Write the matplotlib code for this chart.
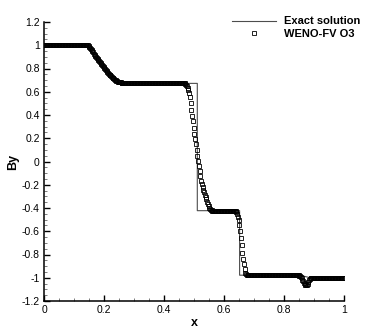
import numpy as np
import matplotlib.pyplot as plt
from matplotlib.ticker import MultipleLocator, AutoMinorLocator, FuncFormatter

plt.rcParams['font.family'] = ['Liberation Sans', 'DejaVu Sans']

# ----------------------------
# Exact solution (piecewise)
# ----------------------------
exact_x = [0.0, 0.145, 0.16, 0.18, 0.20, 0.22, 0.24, 0.255,
           0.511, 0.511, 0.652, 0.652, 0.853, 0.887, 1.0]
exact_by = [1.0, 1.0, 0.948, 0.876, 0.806, 0.744, 0.697, 0.672,
            0.672, -0.423, -0.423, -0.978, -0.978, -1.0, -1.0]

# ----------------------------
# WENO-FV O3 cell values, 400 cells on [0, 1]
# ----------------------------
n_cells = 400
weno_x = (np.arange(n_cells) + 0.5) / n_cells

rarefaction = [0.998, 0.992, 0.984, 0.975, 0.966, 0.957, 0.948, 0.939,
               0.929, 0.920, 0.911, 0.902, 0.892, 0.883, 0.874, 0.865,
               0.856, 0.847, 0.838, 0.829, 0.820, 0.811, 0.802, 0.794,
               0.786, 0.778, 0.770, 0.762, 0.755, 0.748, 0.741, 0.734,
               0.727, 0.721, 0.715, 0.709, 0.704, 0.699, 0.695, 0.691,
               0.688, 0.685, 0.683, 0.681, 0.680, 0.679, 0.678, 0.678]
compound = [0.674, 0.672, 0.668, 0.662, 0.652, 0.635, 0.612, 0.585,
            0.552, 0.500, 0.440, 0.390, 0.345, 0.290, 0.240, 0.190,
            0.150, 0.100, 0.050, 0.005, -0.040, -0.082, -0.125, -0.165,
            -0.195, -0.220, -0.245, -0.265, -0.285, -0.305, -0.325, -0.345,
            -0.365, -0.385, -0.400, -0.410, -0.417, -0.421]
slow_shock = [-0.425, -0.428, -0.435, -0.455, -0.475, -0.505, -0.545, -0.600,
              -0.655, -0.720, -0.785, -0.840, -0.885, -0.925, -0.955, -0.970,
              -0.976]
dip = [-0.982, -0.988, -0.996, -1.006, -1.017, -1.029, -1.041, -1.052,
       -1.061, -1.065, -1.063, -1.052, -1.035, -1.018, -1.007, -1.002]

weno_by = ([1.0] * 58 + rarefaction + [0.677] * 40 + [0.675] * 40
           + compound + [-0.423] * 30 + slow_shock + [-0.978] * 69
           + dip + [-1.0] * 44)

# ----------------------------
# Plot
# ----------------------------
fig = plt.figure(figsize=(3.74, 3.32), dpi=100)
ax = fig.add_axes([44 / 374, 31 / 332, 300 / 374, 279 / 332])

ax.plot(exact_x, exact_by, color='0.3', lw=0.8, label='Exact solution')
ax.plot(weno_x, weno_by, ls='none', marker='s', ms=2.7, mfc='none',
        mec='black', mew=0.6, label='WENO-FV O3')

ax.set_xlim(0, 1)
ax.set_ylim(-1.2, 1.2)

for side in ('top', 'right'):
    ax.spines[side].set_visible(False)
for side in ('left', 'bottom'):
    ax.spines[side].set_linewidth(1.1)

ax.xaxis.set_major_locator(MultipleLocator(0.2))
ax.yaxis.set_major_locator(MultipleLocator(0.2))
ax.xaxis.set_minor_locator(AutoMinorLocator(4))
ax.yaxis.set_minor_locator(AutoMinorLocator(4))
fmt = FuncFormatter(lambda v, pos: '%g' % round(v, 2))
ax.xaxis.set_major_formatter(fmt)
ax.yaxis.set_major_formatter(fmt)
ax.tick_params(which='major', direction='in', length=4.5, width=1.0,
               labelsize=7.5, pad=3)
ax.tick_params(which='minor', direction='in', length=2.5, width=0.6,
               color='0.4')

ax.set_xlabel('x', fontsize=9, fontweight='bold', labelpad=1)
ax.set_ylabel('By', fontsize=9, fontweight='bold', labelpad=2)

ax.legend(loc='upper left', bbox_to_anchor=(0.625, 1.02), frameon=False,
          prop={'weight': 'bold', 'size': 8}, handlelength=4.0,
          handletextpad=0.7, labelspacing=0.2, borderpad=0,
          borderaxespad=0, numpoints=1)

fig.savefig('out.png', dpi=100)
